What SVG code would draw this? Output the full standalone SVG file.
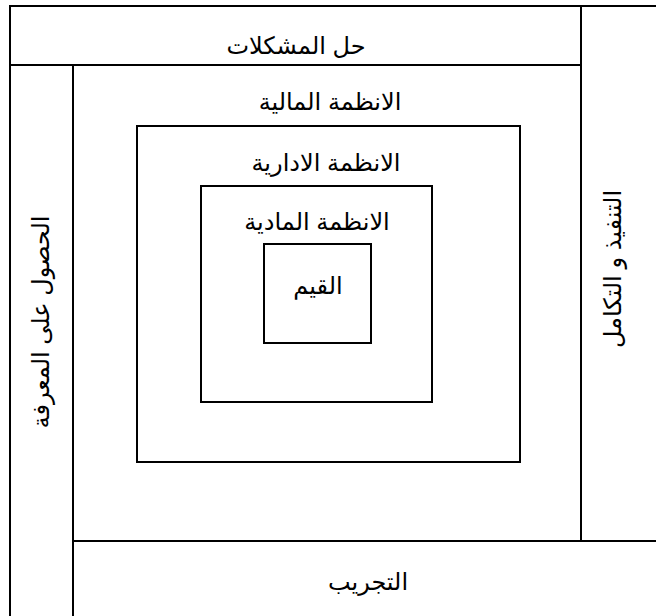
<svg xmlns="http://www.w3.org/2000/svg" width="656" height="616" viewBox="0 0 656 616">
<style>
.box{fill:none;stroke:#000;stroke-width:2}
.t{font-family:"Liberation Sans","DejaVu Sans",sans-serif;font-size:24px;fill:#000;text-anchor:middle}
</style>
<rect width="656" height="616" fill="#fff"/>
<g id="top-band"><rect class="box" x="10" y="6" width="571" height="59"/><text class="t" x="296" y="54" direction="rtl">حل المشكلات</text></g>
<g id="right-band"><rect class="box" x="581" y="6" width="90" height="535"/><text class="t" transform="translate(621,269) rotate(-90)" direction="rtl">التنفيذ و التكامل</text></g>
<g id="bottom-band"><rect class="box" x="73" y="541" width="600" height="90"/><text class="t" x="368" y="590" direction="rtl">التجريب</text></g>
<g id="left-band"><rect class="box" x="10" y="65" width="63" height="570"/><text class="t" transform="translate(49,322) rotate(-90)" direction="rtl">الحصول على المعرفة</text></g>
<g id="financial"><rect class="box" x="137" y="126" width="383" height="336"/><text class="t" x="330" y="110" direction="rtl">الانظمة المالية</text></g>
<g id="administrative"><rect class="box" x="201" y="186" width="231" height="216"/><text class="t" x="326" y="171" direction="rtl">الانظمة الادارية</text></g>
<g id="material"><rect class="box" x="264" y="244" width="107" height="99"/><text class="t" x="317" y="230" direction="rtl">الانظمة المادية</text></g>
<g id="values"><text class="t" x="318" y="294" direction="rtl">القيم</text></g>
<g id="connectors"></g>
</svg>
